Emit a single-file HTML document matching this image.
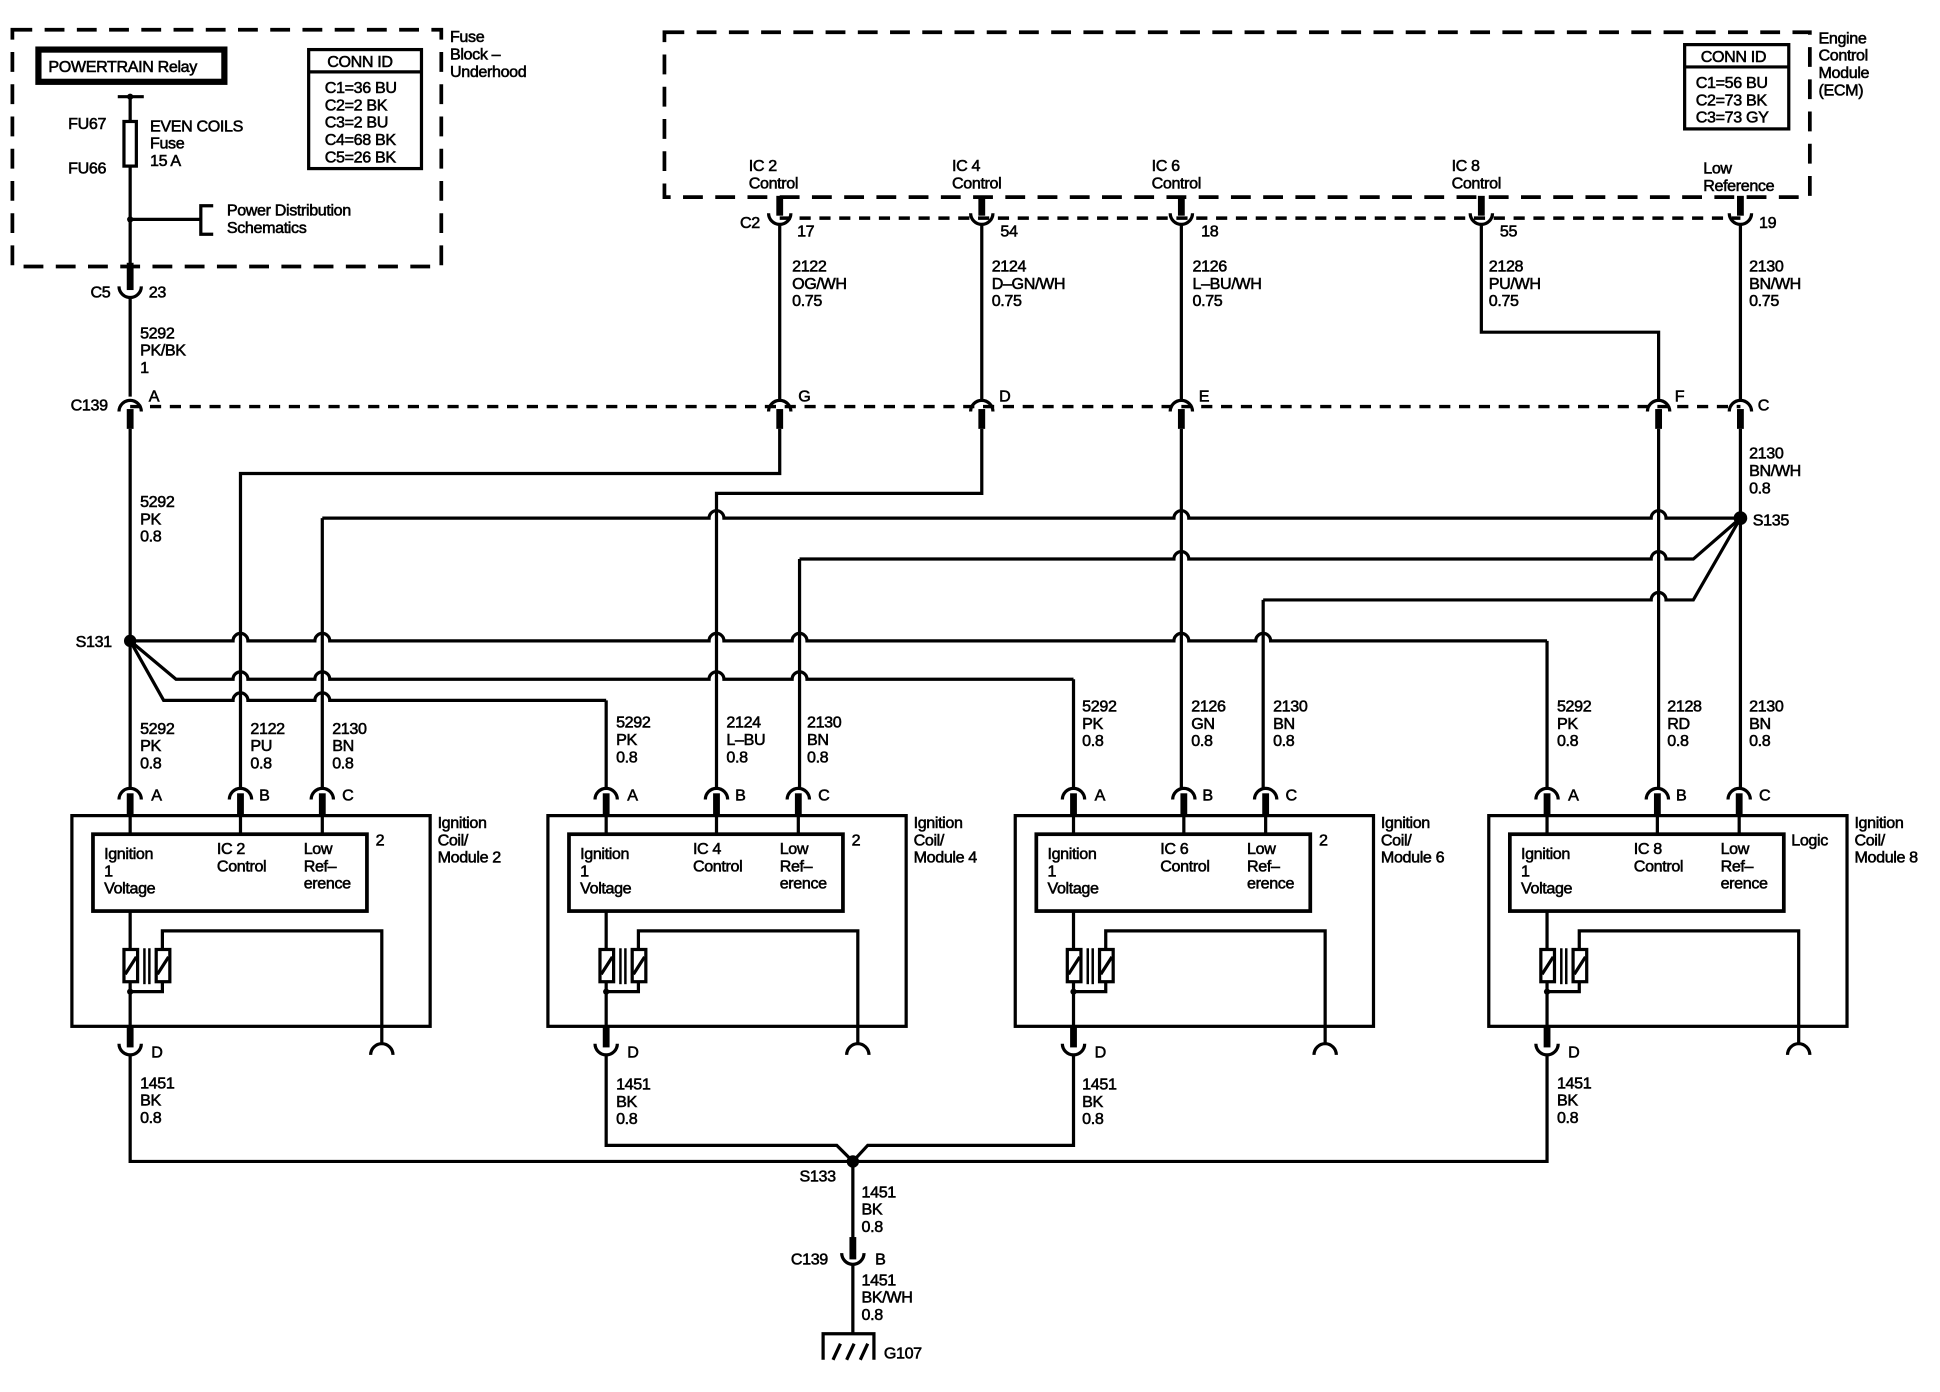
<!DOCTYPE html>
<html><head><meta charset="utf-8"><style>
html,body{margin:0;padding:0;background:#fff;}
svg{display:block;}
text{font-family:"Liberation Sans",Arial,sans-serif;font-size:13px;fill:#000;stroke:#000;stroke-width:0.45;letter-spacing:-0.3px;}
.w{fill:none;stroke:#000;stroke-width:2.6;}
.s{fill:none;stroke:#000;stroke-width:5.5;}
.d{fill:none;stroke:#000;stroke-width:2.8;stroke-dasharray:9 7;}
.dl{fill:none;stroke:#000;stroke-width:3;stroke-dasharray:16 10;}
</style></head><body>
<svg width="1940" height="1392" viewBox="0 0 1565 1123" preserveAspectRatio="none" xmlns="http://www.w3.org/2000/svg">
<rect width="1565" height="1123" fill="#fff"/>

<!-- Fuse block -->
<rect x="10" y="24" width="346" height="191" class="dl"/>
<text x="363" y="34">Fuse</text><text x="363" y="48">Block –</text><text x="363" y="62">Underhood</text>
<rect x="31" y="40" width="150" height="26" fill="none" stroke="#000" stroke-width="5"/>
<text x="39" y="58">POWERTRAIN Relay</text>
<rect x="249" y="40" width="91" height="96" fill="none" stroke="#000" stroke-width="2.6"/>
<line x1="249" y1="58" x2="340" y2="58" class="w"/>
<text x="264" y="54">CONN ID</text>
<text x="262" y="75">C1=36 BU</text><text x="262" y="89">C2=2 BK</text><text x="262" y="103">C3=2 BU</text><text x="262" y="117">C4=68 BK</text><text x="262" y="131">C5=26 BK</text>
<line x1="95" y1="78" x2="116" y2="78" class="w"/>
<circle cx="105" cy="78" r="2.5"/>
<line x1="105" y1="78" x2="105" y2="228" class="w"/>
<rect x="100" y="98" width="10" height="36" fill="#fff" stroke="#000" stroke-width="2.6"/>
<text x="55" y="104">FU67</text><text x="55" y="140">FU66</text>
<text x="121" y="106">EVEN COILS</text><text x="121" y="120">Fuse</text><text x="121" y="134">15 A</text>
<line x1="105" y1="177" x2="162" y2="177" class="w"/><circle cx="105" cy="177" r="2.5"/>
<path d="M172 166 H162 V189 H172" class="w"/>
<text x="183" y="174">Power Distribution</text><text x="183" y="188">Schematics</text>
<!-- C5 -->
<line x1="105" y1="212" x2="105" y2="234" class="s"/>
<path d="M96 231 A9 9 0 0 0 114 231" class="w"/>
<line x1="105" y1="240" x2="105" y2="320" class="w"/>
<text x="73" y="240">C5</text><text x="120" y="240">23</text>
<text x="113" y="273">5292</text><text x="113" y="287">PK/BK</text><text x="113" y="301">1</text>

<!-- ECM -->
<rect x="536" y="26" width="924" height="133" class="dl"/>
<text x="1467" y="35">Engine</text><text x="1467" y="49">Control</text><text x="1467" y="63">Module</text><text x="1467" y="77">(ECM)</text>
<rect x="1359" y="36" width="84" height="68" fill="none" stroke="#000" stroke-width="2.6"/>
<line x1="1359" y1="54" x2="1443" y2="54" class="w"/>
<text x="1372" y="50">CONN ID</text>
<text x="1368" y="71">C1=56 BU</text><text x="1368" y="85">C2=73 BK</text><text x="1368" y="99">C3=73 GY</text>
<text x="604" y="138">IC 2</text><text x="604" y="152">Control</text>
<text x="768" y="138">IC 4</text><text x="768" y="152">Control</text>
<text x="929" y="138">IC 6</text><text x="929" y="152">Control</text>
<text x="1171" y="138">IC 8</text><text x="1171" y="152">Control</text>
<text x="1374" y="140">Low</text><text x="1374" y="154">Reference</text>
<line x1="629" y1="176" x2="1404" y2="176" class="d"/>
<g>
<line x1="629" y1="158" x2="629" y2="174" class="s"/><path d="M620 172 A9 9 0 0 0 638 172" class="w"/>
<line x1="792" y1="158" x2="792" y2="174" class="s"/><path d="M783 172 A9 9 0 0 0 801 172" class="w"/>
<line x1="953" y1="158" x2="953" y2="174" class="s"/><path d="M944 172 A9 9 0 0 0 962 172" class="w"/>
<line x1="1195" y1="158" x2="1195" y2="174" class="s"/><path d="M1186 172 A9 9 0 0 0 1204 172" class="w"/>
<line x1="1404" y1="158" x2="1404" y2="174" class="s"/><path d="M1395 172 A9 9 0 0 0 1413 172" class="w"/>
</g>
<text x="597" y="184">C2</text><text x="643" y="191">17</text><text x="807" y="191">54</text><text x="969" y="191">18</text><text x="1210" y="191">55</text><text x="1419" y="184">19</text>
<line x1="629" y1="181" x2="629" y2="322" class="w"/>
<line x1="792" y1="181" x2="792" y2="322" class="w"/>
<line x1="953" y1="181" x2="953" y2="322" class="w"/>
<path d="M1195 181 V268 H1338 V322" class="w"/>
<line x1="1404" y1="181" x2="1404" y2="322" class="w"/>
<text x="639" y="219">2122</text><text x="639" y="233">OG/WH</text><text x="639" y="247">0.75</text>
<text x="800" y="219">2124</text><text x="800" y="233">D–GN/WH</text><text x="800" y="247">0.75</text>
<text x="962" y="219">2126</text><text x="962" y="233">L–BU/WH</text><text x="962" y="247">0.75</text>
<text x="1201" y="219">2128</text><text x="1201" y="233">PU/WH</text><text x="1201" y="247">0.75</text>
<text x="1411" y="219">2130</text><text x="1411" y="233">BN/WH</text><text x="1411" y="247">0.75</text>

<!-- C139 row -->
<line x1="105" y1="328" x2="1404" y2="328" class="d"/>
<g>
<path d="M96 332 A9 9 0 0 1 114 332" class="w"/><line x1="105" y1="330" x2="105" y2="346" class="s"/>
<path d="M620 332 A9 9 0 0 1 638 332" class="w"/><line x1="629" y1="330" x2="629" y2="346" class="s"/>
<path d="M783 332 A9 9 0 0 1 801 332" class="w"/><line x1="792" y1="330" x2="792" y2="346" class="s"/>
<path d="M944 332 A9 9 0 0 1 962 332" class="w"/><line x1="953" y1="330" x2="953" y2="346" class="s"/>
<path d="M1329 332 A9 9 0 0 1 1347 332" class="w"/><line x1="1338" y1="330" x2="1338" y2="346" class="s"/>
<path d="M1395 332 A9 9 0 0 1 1413 332" class="w"/><line x1="1404" y1="330" x2="1404" y2="346" class="s"/>
</g>
<text x="57" y="331">C139</text>
<text x="120" y="324">A</text><text x="644" y="324">G</text><text x="806" y="324">D</text><text x="967" y="324">E</text><text x="1351" y="324">F</text><text x="1418" y="331">C</text>

<!-- vertical wires -->
<line x1="105" y1="346" x2="105" y2="636" class="w"/>
<path d="M629 346 V382 H194 V636" class="w"/>
<path d="M792 346 V398 H578 V636" class="w"/>
<path d="M260 636 V418" class="w"/>
<line x1="953" y1="346" x2="953" y2="636" class="w"/>
<line x1="1338" y1="346" x2="1338" y2="636" class="w"/>
<line x1="1404" y1="346" x2="1404" y2="636" class="w"/>
<path d="M645 636 V451" class="w"/>
<path d="M1019 636 V484" class="w"/>
<path d="M866 636 V548" class="w"/>
<path d="M489 636 V565" class="w"/>
<path d="M1248 636 V517" class="w"/>

<!-- horizontals with hops -->
<path d="M260 418 H572 A6 6 0 0 1 584 418 H947 A6 6 0 0 1 959 418 H1332 A6 6 0 0 1 1344 418 H1404" class="w"/>
<path d="M645 451 H947 A6 6 0 0 1 959 451 H1332 A6 6 0 0 1 1344 451 H1366 L1404 418" class="w"/>
<path d="M1019 484 H1332 A6 6 0 0 1 1344 484 H1366 L1404 418" class="w"/>
<path d="M105 517 H188 A6 6 0 0 1 200 517 H254 A6 6 0 0 1 266 517 H572 A6 6 0 0 1 584 517 H639 A6 6 0 0 1 651 517 H947 A6 6 0 0 1 959 517 H1013 A6 6 0 0 1 1025 517 H1248" class="w"/>
<path d="M105 517 L142 548 H188 A6 6 0 0 1 200 548 H254 A6 6 0 0 1 266 548 H572 A6 6 0 0 1 584 548 H639 A6 6 0 0 1 651 548 H866" class="w"/>
<path d="M105 517 L132 565 H188 A6 6 0 0 1 200 565 H254 A6 6 0 0 1 266 565 H489" class="w"/>
<circle cx="105" cy="517" r="5"/><circle cx="1404" cy="418" r="5.5"/>
<text x="61" y="522">S131</text><text x="1414" y="424">S135</text>
<text x="113" y="409">5292</text><text x="113" y="423">PK</text><text x="113" y="437">0.8</text>
<text x="1411" y="370">2130</text><text x="1411" y="384">BN/WH</text><text x="1411" y="398">0.8</text>

<!-- pin labels above modules -->
<text x="113" y="592">5292</text><text x="113" y="606">PK</text><text x="113" y="620">0.8</text>
<text x="202" y="592">2122</text><text x="202" y="606">PU</text><text x="202" y="620">0.8</text>
<text x="268" y="592">2130</text><text x="268" y="606">BN</text><text x="268" y="620">0.8</text>
<text x="497" y="587">5292</text><text x="497" y="601">PK</text><text x="497" y="615">0.8</text>
<text x="586" y="587">2124</text><text x="586" y="601">L–BU</text><text x="586" y="615">0.8</text>
<text x="651" y="587">2130</text><text x="651" y="601">BN</text><text x="651" y="615">0.8</text>
<text x="873" y="574">5292</text><text x="873" y="588">PK</text><text x="873" y="602">0.8</text>
<text x="961" y="574">2126</text><text x="961" y="588">GN</text><text x="961" y="602">0.8</text>
<text x="1027" y="574">2130</text><text x="1027" y="588">BN</text><text x="1027" y="602">0.8</text>
<text x="1256" y="574">5292</text><text x="1256" y="588">PK</text><text x="1256" y="602">0.8</text>
<text x="1345" y="574">2128</text><text x="1345" y="588">RD</text><text x="1345" y="602">0.8</text>
<text x="1411" y="574">2130</text><text x="1411" y="588">BN</text><text x="1411" y="602">0.8</text>

<!-- Module template -->
<defs>
<g id="mod">
<rect x="58" y="658" width="289" height="170" fill="none" stroke="#000" stroke-width="2.6"/>
<rect x="75" y="673" width="221" height="62" fill="none" stroke="#000" stroke-width="3"/>
<path d="M96 645 A9 9 0 0 1 114 645" class="w"/><line x1="105" y1="640" x2="105" y2="658" class="s"/>
<path d="M185 645 A9 9 0 0 1 203 645" class="w"/><line x1="194" y1="640" x2="194" y2="658" class="s"/>
<path d="M251 645 A9 9 0 0 1 269 645" class="w"/><line x1="260" y1="640" x2="260" y2="658" class="s"/>
<line x1="105" y1="658" x2="105" y2="673" class="w"/>
<line x1="194" y1="658" x2="194" y2="673" class="w"/>
<line x1="260" y1="658" x2="260" y2="673" class="w"/>
<line x1="105" y1="735" x2="105" y2="830" class="w"/>
<rect x="100" y="766" width="11" height="26" fill="#fff" stroke="#000" stroke-width="2.6"/>
<line x1="101" y1="786" x2="110" y2="772" class="w"/>
<rect x="126" y="766" width="11" height="26" fill="#fff" stroke="#000" stroke-width="2.6"/>
<line x1="127" y1="786" x2="136" y2="772" class="w"/>
<line x1="116.5" y1="765" x2="116.5" y2="794" stroke="#000" stroke-width="2"/>
<line x1="120.5" y1="765" x2="120.5" y2="794" stroke="#000" stroke-width="2"/>
<path d="M131 766 V751 H308 V843" class="w"/>
<path d="M299 851 A9 9 0 0 1 317 851" class="w"/>
<path d="M105 800 H131 V792" class="w"/><circle cx="105" cy="800" r="2.5"/>
<line x1="105" y1="828" x2="105" y2="845" class="s"/>
<path d="M96 842 A9 9 0 0 0 114 842" class="w"/>
<text x="122" y="646">A</text><text x="209" y="646">B</text><text x="276" y="646">C</text>
<text x="122" y="853">D</text>
<text x="84" y="693">Ignition</text><text x="84" y="707">1</text><text x="84" y="721">Voltage</text>
<text x="245" y="689">Low</text><text x="245" y="703">Ref–</text><text x="245" y="717">erence</text>
<text x="353" y="668">Ignition</text><text x="353" y="682">Coil/</text>
</g>
</defs>
<use href="#mod"/>
<use href="#mod" transform="translate(384,0)"/>
<use href="#mod" transform="translate(761,0)"/>
<use href="#mod" transform="translate(1143,0)"/>
<text x="175" y="689">IC 2</text><text x="175" y="703">Control</text><text x="303" y="682">2</text><text x="353" y="696">Module 2</text>
<text x="559" y="689">IC 4</text><text x="559" y="703">Control</text><text x="687" y="682">2</text><text x="737" y="696">Module 4</text>
<text x="936" y="689">IC 6</text><text x="936" y="703">Control</text><text x="1064" y="682">2</text><text x="1114" y="696">Module 6</text>
<text x="1318" y="689">IC 8</text><text x="1318" y="703">Control</text><text x="1445" y="682">Logic</text><text x="1496" y="696">Module 8</text>

<!-- ground wiring -->
<text x="113" y="878">1451</text><text x="113" y="892">BK</text><text x="113" y="906">0.8</text>
<text x="497" y="879">1451</text><text x="497" y="893">BK</text><text x="497" y="907">0.8</text>
<text x="873" y="879">1451</text><text x="873" y="893">BK</text><text x="873" y="907">0.8</text>
<text x="1256" y="878">1451</text><text x="1256" y="892">BK</text><text x="1256" y="906">0.8</text>
<path d="M105 851 V937 H1248 V851" class="w"/>
<path d="M489 851 V924 H675 L688 937 L700 924 H866 V851" class="w"/>
<circle cx="688" cy="937" r="5"/>
<text x="645" y="953">S133</text>
<line x1="688" y1="937" x2="688" y2="1000" class="w"/>
<line x1="688" y1="998" x2="688" y2="1016" class="s"/>
<path d="M679 1011 A9 9 0 0 0 697 1011" class="w"/>
<line x1="688" y1="1020" x2="688" y2="1076" class="w"/>
<text x="695" y="966">1451</text><text x="695" y="980">BK</text><text x="695" y="994">0.8</text>
<text x="638" y="1020">C139</text><text x="706" y="1020">B</text>
<text x="695" y="1037">1451</text><text x="695" y="1051">BK/WH</text><text x="695" y="1065">0.8</text>
<path d="M664 1097 V1076 H705 V1097" class="w"/>
<line x1="672" y1="1097" x2="678" y2="1084" class="w"/>
<line x1="683" y1="1097" x2="689" y2="1084" class="w"/>
<line x1="694" y1="1097" x2="700" y2="1084" class="w"/>
<text x="713" y="1096">G107</text>
</svg>
</body></html>
